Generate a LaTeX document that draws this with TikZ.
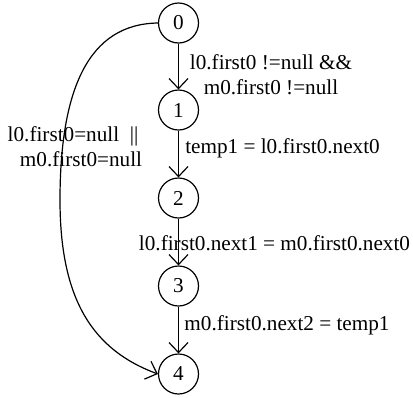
\documentclass[tikz,border=0pt]{standalone}
\usepackage{fontspec}
\setmainfont{Liberation Serif}
\usetikzlibrary{arrows.meta}
\begin{document}
\begin{tikzpicture}[x=0.5pt,y=-0.5pt,font=\fontsize{10.6}{12.5}\selectfont,
 state/.style={draw,circle,minimum size=20pt,inner sep=0pt,line width=0.6pt},
 trans/.style={-{Straight Barb[length=5pt,width=9.5pt]},line width=0.6pt},
 guard/.style={align=center,inner sep=0pt}]
 \useasboundingbox (0,0) rectangle (413,397);
 \node[state] (s0) at (178.5,23) {0};
 \node[state] (s1) at (178.5,110) {1};
 \node[state] (s2) at (178.5,198) {2};
 \node[state] (s3) at (178.5,286) {3};
 \node[state] (s4) at (178.5,374) {4};
 \coordinate (bend) at (60,200);
 \draw[trans] (s0) -- (s1);
 \draw[trans] (s1) -- (s2);
 \draw[trans] (s2) -- (s3);
 \draw[trans] (s3) -- (s4);
 \draw[trans] (s0.west) .. controls (88,24) and (60,90) .. (bend) .. controls (60,300) and (93,350) .. (s4.west);
 \node[guard] (g01) at (271,75) {l0.first0 !=null \&\&\\m0.first0 !=null};
 \node[guard] (g12) at (282.5,148) {temp1 = l0.first0.next0};
 \node[guard] (g23) at (274.5,243) {l0.first0.next1 = m0.first0.next0};
 \node[guard] (g34) at (287,325) {m0.first0.next2 = temp1};
 \node[guard] (g04) at (81,147) {l0.first0=null\ \ ||\hspace*{8pt}\\m0.first0=null};
\end{tikzpicture}
\end{document}
